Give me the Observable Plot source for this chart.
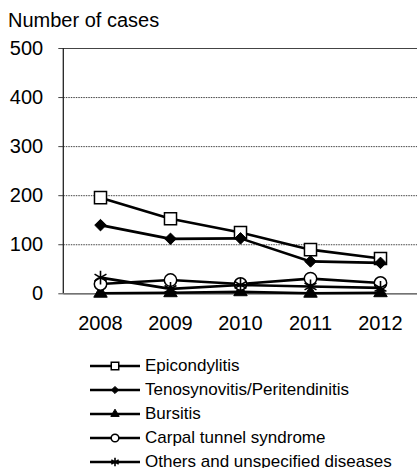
<!DOCTYPE html>
<html>
<head>
<meta charset="utf-8">
<script src="https://cdn.jsdelivr.net/npm/d3@7"></script>
<script src="https://cdn.jsdelivr.net/npm/@observablehq/plot@0.6"></script>
<style>
  body { margin: 0; background: #fff; font-family: "Liberation Sans", Arial, sans-serif; }
  #wrap { width: 417px; height: 468px; overflow: hidden; position: relative; }
  #title { height: 30px; font-size: 20px; line-height: 40px; padding-left: 8px; color: #000; white-space: nowrap; }
  #legend { padding-top: 12px; }
  .row { height: 24px; display: flex; align-items: center; font-size: 17px; color: #000; white-space: nowrap; }
  .row svg { margin-left: 90px; margin-right: 5px; flex: none; }
</style>
</head>
<body>
<div id="wrap">
  <div id="title">Number of cases</div>
  <div id="chart"></div>
  <div id="legend"></div>
</div>
<script>
const years = ["2008", "2009", "2010", "2011", "2012"];
const yTicks = [0, 100, 200, 300, 400, 500];
const seriesNames = ["Epicondylitis", "Tenosynovitis/Peritendinitis", "Bursitis", "Carpal tunnel syndrome", "Others and unspecified diseases"];
const epicondylitis = [196, 153, 125, 90, 72];
const tenosynovitis = [140, 112, 113, 66, 63];
const bursitis = [1, 2, 4, 1, 2];
const carpalTunnel = [20, 28, 20, 31, 22];
const others = [33, 10, 18, 15, 12];

const seriesValues = [epicondylitis, tenosynovitis, bursitis, carpalTunnel, others];
const symbolStyles = [
  {symbol: "square", r: 6.8, fill: "white", stroke: "black", strokeWidth: 1.5},
  {symbol: "diamond2", r: 5.2, fill: "black", stroke: "black", strokeWidth: 1},
  {symbol: "triangle", r: 5, fill: "black", stroke: "black", strokeWidth: 1},
  {symbol: "circle", r: 6.2, fill: "white", stroke: "black", strokeWidth: 1.5},
  {symbol: "asterisk", r: 6.5, fill: "none", stroke: "black", strokeWidth: 1.6}
];

const data = seriesNames.map((name, i) => years.map((yr, j) => ({series: name, year: yr, value: seriesValues[i][j]})));

const marks = [
  Plot.ruleY(yTicks.filter(d => d > 0 && d < 500), {stroke: "#444", strokeWidth: 1, strokeDasharray: "1.5,1"}),
  Plot.ruleY([500], {stroke: "#444", strokeWidth: 1.2}),
  Plot.ruleY([0], {stroke: "#444", strokeWidth: 1.2}),
  Plot.axisY({ticks: yTicks, tickSize: 5, tickPadding: 15.6, fontSize: 20, stroke: "#444", color: "#000"}),
  Plot.axisX({tickSize: 0, tickPadding: 21.7, fontSize: 20, color: "#000"})
];
data.forEach((rows, i) => {
  const s = symbolStyles[i];
  marks.push(Plot.line(rows, {x: "year", y: "value", stroke: "black", strokeWidth: 2.6}));
  marks.push(Plot.dot(rows, {x: "year", y: "value", symbol: () => s.symbol, r: s.r, fill: s.fill, stroke: s.stroke, strokeWidth: s.strokeWidth}));
});

const chart = Plot.plot({
  width: 417,
  height: 312,
  marginTop: 18,
  marginBottom: 48.7,
  marginLeft: 63.3,
  marginRight: 0,
  style: {fontFamily: "'Liberation Sans', Arial, sans-serif", background: "white", overflow: "visible"},
  x: {type: "point", domain: years, padding: 0.5, label: null},
  y: {domain: [0, 500], label: null},
  symbol: {type: "identity"},
  marks
});
// left axis line
const svg = d3.select(chart);
svg.append("line")
  .attr("x1", 63.3).attr("x2", 63.3).attr("y1", 18).attr("y2", 312 - 48.7)
  .attr("stroke", "#222").attr("stroke-width", 1.3);
document.getElementById("chart").appendChild(chart);

// legend
const legend = d3.select("#legend");
const symMap = {square: d3.symbolSquare, diamond2: d3.symbolDiamond2, triangle: d3.symbolTriangle, circle: d3.symbolCircle, asterisk: d3.symbolAsterisk};
seriesNames.forEach((name, i) => {
  const s = symbolStyles[i];
  const row = legend.append("div").attr("class", "row");
  const sv = row.append("svg").attr("width", 50).attr("height", 24);
  sv.append("line").attr("x1", 0).attr("x2", 50).attr("y1", 12).attr("y2", 12).attr("stroke", "black").attr("stroke-width", 2.4);
  const rr = s.r * 0.62;
  sv.append("path")
    .attr("transform", "translate(25,12)")
    .attr("d", d3.symbol(symMap[s.symbol], Math.PI * rr * rr)())
    .attr("fill", s.fill).attr("stroke", s.stroke).attr("stroke-width", s.strokeWidth);
  row.append("span").text(name);
});
</script>
</body>
</html>
